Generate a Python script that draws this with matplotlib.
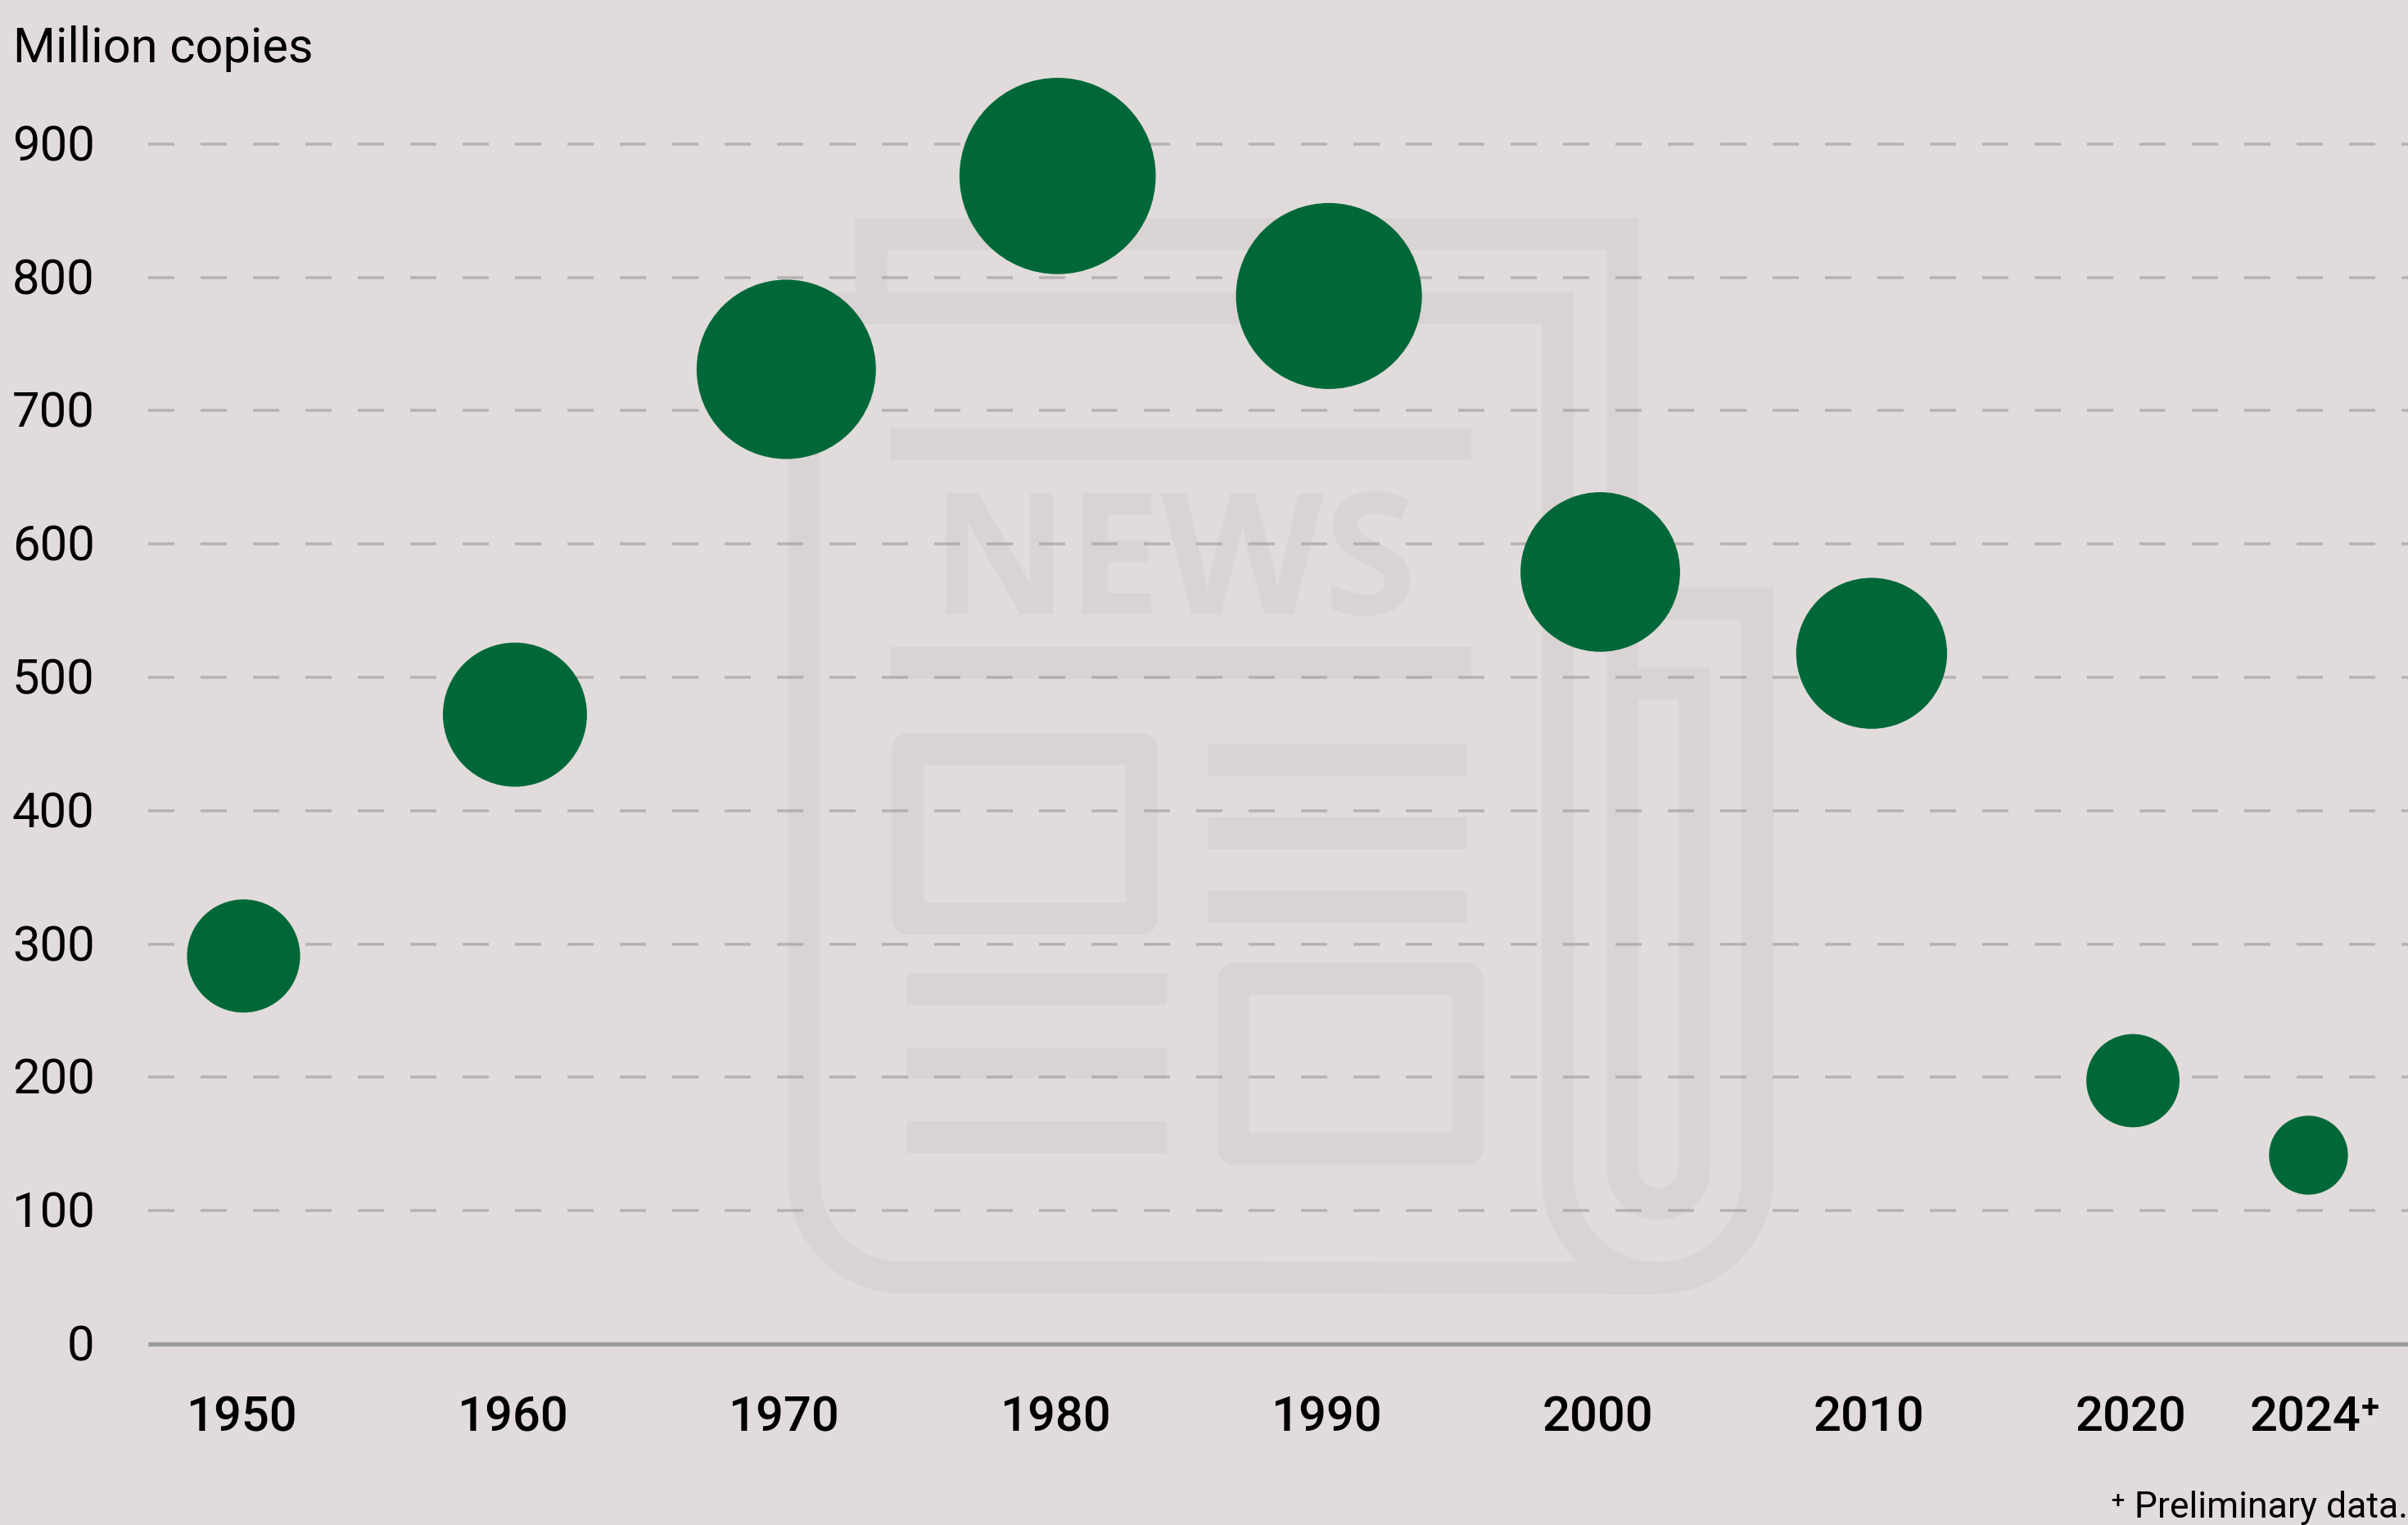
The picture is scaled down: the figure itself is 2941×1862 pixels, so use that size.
import numpy as np
import matplotlib
matplotlib.use("Agg")
import matplotlib.pyplot as plt
from matplotlib.path import Path
from matplotlib.patches import PathPatch, Rectangle
from matplotlib.transforms import ScaledTranslation

# ---- data ----
tick_labels = ["1950", "1960", "1970", "1980", "1990", "2000", "2010", "2020", "2024⁺"]
x_slots = [1950, 1960, 1970, 1980, 1990, 2000, 2010, 2019.63, 2026.1]
copies = [291, 472, 731, 876, 786, 579, 518, 197.5, 141.6]
y_ticks = [0, 100, 200, 300, 400, 500, 600, 700, 800, 900]
y_label = "Million copies"
footnote = "⁺ Preliminary data."

W, H, DPI = 2941, 1862, 100
PX = 72 / DPI
BG = "#e1dbdb"
ICON = "#d9d3d3"
GREEN = "#006838"
FAM = ["Roboto", "DejaVu Sans"]

plt.rcParams["lines.scale_dashes"] = False
plt.rcParams["font.family"] = FAM

fig = plt.figure(figsize=(W / DPI, H / DPI), dpi=DPI, facecolor=BG)

# ---- decorative newspaper icon, in figure pixels ----
bg = fig.add_axes([0, 0, 1, 1], zorder=0)
bg.set_xlim(0, W)
bg.set_ylim(H, 0)
bg.axis("off")
STROKE = 39


def arc(cx, cy, r, a0, a1, n=60):
    t = np.radians(np.linspace(a0, a1, n))
    return [(cx + r * np.cos(a), cy + r * np.sin(a)) for a in t]


def stroke(points, join="miter", codes=None):
    p = PathPatch(Path(points, codes), fill=False, edgecolor=ICON, linewidth=STROKE * PX,
                  capstyle="butt", joinstyle=join)
    bg.add_patch(p)


# front sheet, right roll
stroke([(982, 376.5), (1903, 376.5), (1903, 1439)] + arc(2024.6, 1439, 121.6, 180, 0)
       + [(2146, 737), (2001, 737)])
# front sheet, left side and bottom
stroke([(982, 376.5), (982, 1440)] + arc(1102, 1440, 120, 180, 90) + [(2024.6, 1560.8)])
# back sheet and inner tube
stroke([(1064, 357), (1064, 285.5), (1981.5, 285.5), (1981.5, 1426)]
       + arc(2025.5, 1426, 44, 180, 0) + [(2069.5, 834.5), (1981.5, 834.5)])

for x0, x1, y0, y1 in [(1087, 1796.6, 523, 562), (1087, 1796.6, 790, 829),
                       (1476, 1792, 908, 947), (1476, 1792, 998, 1037), (1476, 1792, 1088, 1127),
                       (1108, 1425, 1188, 1227), (1108, 1425, 1278.6, 1317), (1108, 1425, 1369, 1408)]:
    bg.add_patch(Rectangle((x0, y0), x1 - x0, y1 - y0, facecolor=ICON, edgecolor="none"))

for x0, x1, y0, y1 in [(1108, 1394, 914, 1120.5), (1506, 1792, 1195, 1401.5)]:
    stroke([(x0, y0), (x1, y0), (x1, y1), (x0, y1), (x0, y0)], join="round",
           codes=[Path.MOVETO, Path.LINETO, Path.LINETO, Path.LINETO, Path.CLOSEPOLY])

bg.text(1433.6, 750, "NEWS", color=ICON, family="Open Sans", weight="bold",
        fontsize=148, ha="center", va="baseline")

# ---- chart ----
AX_L, AX_B = 181, 1641
UNIT = 1.628  # pixels per million copies
YEAR = 33.14  # pixels per year slot
ax = fig.add_axes([AX_L / W, (H - AX_B) / H, 1 - AX_L / W, AX_B / H], zorder=1)
ax.patch.set_alpha(0)
ax.set_ylim(0, AX_B / UNIT)
ax.set_xlim(1950 - (297.5 - AX_L) / YEAR, 1950 + (W - 297.5) / YEAR)

ax.set_yticks(y_ticks)
ax.set_xticks(x_slots, tick_labels)
ax.tick_params(axis="both", length=0)
ax.tick_params(axis="y", labelsize=43, pad=47, labelcolor="black")
ax.tick_params(axis="x", labelsize=43, pad=44, labelcolor="black")
for lab in ax.get_yticklabels():
    lab.set_transform(lab.get_transform() + ScaledTranslation(0, 2 / DPI, fig.dpi_scale_trans))
for lab in ax.get_xticklabels():
    lab.set_fontweight(500)
    dx = 8 if "⁺" in lab.get_text() else -3
    lab.set_transform(lab.get_transform() + ScaledTranslation(dx / DPI, 0, fig.dpi_scale_trans))

ax.yaxis.grid(True, color="#9c9696", alpha=0.6, linewidth=3.5 * PX,
              linestyle=(0, (32 * PX, 32 * PX)))
ax.set_axisbelow(True)
for s in ("top", "left", "right"):
    ax.spines[s].set_visible(False)
ax.spines["bottom"].set_color("#9b9b9b")
ax.spines["bottom"].set_linewidth(5.3 * PX)
ax.spines["bottom"].set_capstyle("butt")

ax.scatter(x_slots, copies, s=[34.0 * v for v in copies], color=GREEN, linewidths=0,
           zorder=3, clip_on=False)

fig.text(16 / W, 1 - 76 / H, y_label, fontsize=42.8, color="black", ha="left", va="baseline")
fig.text(2941 / W, 1 - 1853 / H, footnote, fontsize=32, color="black", ha="right", va="baseline")

fig.savefig("out.png", dpi=DPI, facecolor=BG)
